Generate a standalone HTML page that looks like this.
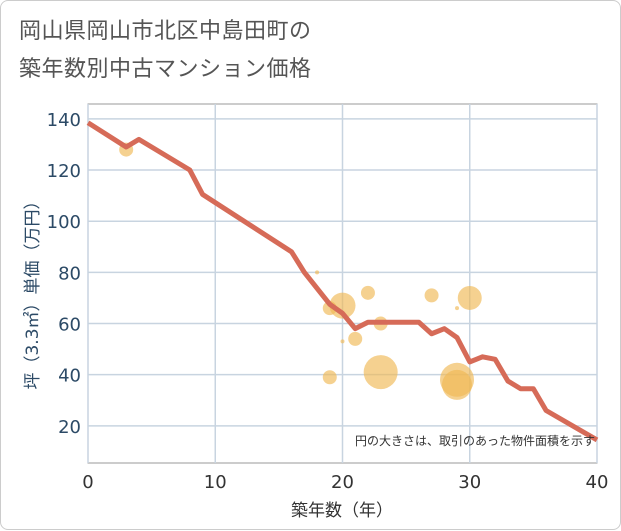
<!DOCTYPE html>
<html><head><meta charset="utf-8"><style>
body{margin:0;background:#fff;font-family:"DejaVu Sans","Noto Sans CJK JP",sans-serif}
#card{position:absolute;left:0;top:0;width:619px;height:528px;border:1px solid #ccc;border-radius:8px;background:#fff}
.t{position:absolute;left:18px;font-size:22px;color:#555;letter-spacing:0.5px;font-family:"Noto Sans CJK JP",sans-serif}
</style></head><body>
<div id="card">
<div class="t" style="top:12px">岡山県岡山市北区中島田町の</div>
<div class="t" style="top:50px">築年数別中古マンション価格</div>
<svg id="svg" width="621" height="530" style="position:absolute;left:0;top:0"></svg>
</div>
<script>
const xTicks=[0,10,20,30,40];
const yTicks=[20,40,60,80,100,120,140];
const bubbleX=[3,18,19,20,22,23,21,20,19,23,27,29,30,29,29];
const bubbleY=[128,80,66,67,72,60,54,53,39,41,71,66,70,38,36];
const bubbleSize=[7,2,7,13,7,7,7,2,7,17,7,2,12,17,15];
const lineX=[0,3,4,8,9,16,17,19,20,21,22,26,27,28,29,30,31,32,33,34,35,36,40];
const lineY=[138.5,129,132,120,110.5,88,80,67.5,64,58,60.5,60.5,56,58,54.5,45,47,46,37.5,34.5,34.5,26,14.5];
const NS="http://www.w3.org/2000/svg",svg=document.getElementById('svg');
const L=87,R=596,T=103,B=462;
const sx=v=>L+(v-0)*(R-L)/40;
const sy=v=>476-v*2.558;
function mk(tag,a,p){const e=document.createElementNS(NS,tag);for(const k in a)e.setAttribute(k,a[k]);(p||svg).appendChild(e);return e;}
const bg=mk('rect',{x:L,y:T,width:R-L,height:B-T,fill:'#fff',stroke:'#999','stroke-width':1});


xTicks.forEach(v=>{
 const g=mk('line',{x1:sx(v),x2:sx(v),y1:T,y2:B,stroke:'#c8d4e0','stroke-width':1.5});
 
 
 const t=mk('text',{x:sx(v),y:487,'text-anchor':'middle','font-size':18,fill:'#333'});t.textContent=v;
 
 
});
yTicks.forEach(v=>{
 const g=mk('line',{x1:L,x2:R,y1:sy(v),y2:sy(v),stroke:'#c8d4e0','stroke-width':1.5});
 
 
 const t=mk('text',{x:80,y:sy(v)+7,'text-anchor':'end','font-size':18,fill:'#2c4a66'});t.textContent=v;
 
 
});
bubbleX.forEach((x,i)=>{
 const c=mk('circle',{cx:sx(x),cy:sy(bubbleY[i]),r:bubbleSize[i],fill:'#f0b955','fill-opacity':0.65});
 
 
});
const pl=mk('polyline',{points:lineX.map((x,i)=>sx(x)+','+sy(lineY[i])).join(' '),fill:'none',stroke:'#d66b58','stroke-width':5,'stroke-linejoin':'round'});


const note=mk('text',{x:594,y:444,'text-anchor':'end','font-size':12,fill:'#333'});note.textContent='円の大きさは、取引のあった物件面積を示す';


const xt=mk('text',{x:341,y:515,'text-anchor':'middle','font-size':17,fill:'#333'});xt.textContent='築年数（年）';


const yt=mk('text',{x:0,y:0,'text-anchor':'middle','font-size':17,fill:'#2c4a66',transform:'translate(37,290) rotate(-90)'});yt.textContent='坪（3.3㎡）単価（万円）';


</script>
</body></html>
